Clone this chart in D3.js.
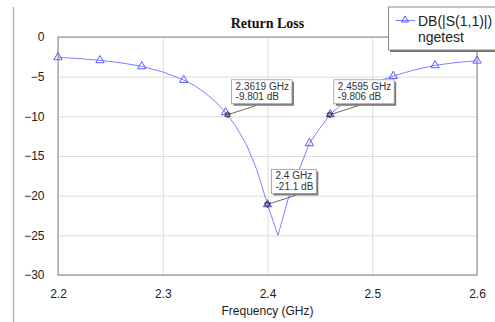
<!DOCTYPE html>
<html>
<head>
<meta charset="utf-8">
<script src="https://cdn.jsdelivr.net/npm/d3@7"></script>
<style>
  body { margin: 0; background: #fff; }
  text { font-family: Arial, "Liberation Sans", sans-serif; }
</style>
</head>
<body>
<div id="chart"></div>
<script>
// Curve values
const freq = [2.20, 2.22, 2.24, 2.26, 2.28, 2.30, 2.32, 2.33, 2.34, 2.35, 2.36, 2.37, 2.38, 2.39, 2.40,
              2.41, 2.42, 2.43, 2.44, 2.45, 2.46, 2.47, 2.48, 2.49, 2.50, 2.51, 2.52, 2.54, 2.56, 2.58, 2.60];
const s11 = [-2.56, -2.72, -2.94, -3.25, -3.70, -4.40, -5.42, -6.10, -7.00, -8.10, -9.50, -11.3, -13.6, -16.8, -21.1,
             -25.0, -20.3, -16.8, -13.4, -11.5, -9.75, -8.60, -7.60, -6.70, -6.00, -5.40, -4.92, -4.15, -3.57, -3.22, -2.99];
// Frequencies that carry a triangle symbol
const symbolFreq = [2.20, 2.24, 2.28, 2.32, 2.36, 2.40, 2.44, 2.46, 2.52, 2.56, 2.60];

// Marker readouts
const markerFreq = [2.3619, 2.4, 2.4595];
const markerDb = [-9.801, -21.1, -9.806];

const xTicks = [2.2, 2.3, 2.4, 2.5, 2.6];
const yTicks = [0, -5, -10, -15, -20, -25, -30];

const width = 495, height = 322,
      margin = ({ top: 37, right: 18, bottom: 47, left: 58 });

const svg = d3.select("#chart").append("svg")
    .attr("width", width)
    .attr("height", height);

const x = d3.scaleLinear().domain([2.2, 2.6]).range([margin.left, width - margin.right]);
const y = d3.scaleLinear().domain([-30, 0]).range([height - margin.bottom, margin.top]);

// window edge on the left
svg.append("line")
    .attr("x1", 13.5).attr("x2", 13.5).attr("y1", 7).attr("y2", height)
    .attr("stroke", "#b5b5b5").attr("stroke-width", 1.5);

// grid
svg.append("g")
    .attr("transform", `translate(0,${height - margin.bottom})`)
    .call(d3.axisBottom(x).tickValues(xTicks).tickSize(-(height - margin.top - margin.bottom)).tickFormat(""))
    .call(g => g.select(".domain").remove())
    .call(g => g.selectAll("line").attr("stroke", "#dcdcdc"));
svg.append("g")
    .attr("transform", `translate(${margin.left},0)`)
    .call(d3.axisLeft(y).tickValues(yTicks).tickSize(-(width - margin.left - margin.right)).tickFormat(""))
    .call(g => g.select(".domain").remove())
    .call(g => g.selectAll("line").attr("stroke", "#dcdcdc"));

// plot frame
svg.append("rect")
    .attr("x", margin.left).attr("y", margin.top)
    .attr("width", width - margin.left - margin.right)
    .attr("height", height - margin.top - margin.bottom)
    .attr("fill", "none").attr("stroke", "#858585");

// tick labels
svg.append("g")
    .attr("transform", `translate(${margin.left},0)`)
    .call(d3.axisLeft(y).tickValues(yTicks).tickSize(0).tickPadding(13.5))
    .call(g => g.select(".domain").remove())
    .call(g => g.selectAll("text").attr("font-size", 12).attr("font-family", "Arial").attr("fill", "#222"));
svg.append("g")
    .attr("transform", `translate(0,${height - margin.bottom})`)
    .call(d3.axisBottom(x).tickValues(xTicks).tickSize(0).tickPadding(14).tickFormat(d3.format(".1f")))
    .call(g => g.select(".domain").remove())
    .call(g => g.selectAll("text").attr("font-size", 12).attr("font-family", "Arial").attr("fill", "#222"));

svg.append("text")
    .attr("x", (margin.left + width - margin.right) / 2).attr("y", 315)
    .attr("text-anchor", "middle").attr("font-size", 12).attr("fill", "#222")
    .text("Frequency (GHz)");

svg.append("text")
    .attr("x", (margin.left + width - margin.right) / 2).attr("y", 28)
    .attr("text-anchor", "middle")
    .style("font-family", "'Liberation Serif', 'Times New Roman', serif")
    .attr("font-weight", "bold").attr("font-size", 14).attr("fill", "#111")
    .text("Return Loss");

// curve
const pts = freq.map((f, i) => [f, s11[i]]);
svg.append("path")
    .datum(pts)
    .attr("fill", "none")
    .attr("stroke", "#8080ff")
    .attr("stroke-width", 1)
    .attr("d", d3.line().x(d => x(d[0])).y(d => y(d[1])));

const tri = d3.symbol().type(d3.symbolTriangle).size(30);
svg.append("g")
    .selectAll("path")
    .data(symbolFreq)
    .join("path")
    .attr("transform", f => `translate(${x(f)},${y(s11[freq.indexOf(f)])})`)
    .attr("d", tri)
    .attr("fill", "none")
    .attr("stroke", "#5a5aff")
    .attr("stroke-width", 1);

// marker readouts
const markers = markerFreq.map((f, i) => ({ f: f, db: markerDb[i] }));
markers.forEach(m => {
  const mx = x(m.f), my = y(m.db);
  const g = svg.append("g");
  const bx = mx + 4, by = my - 35;
  const shadow = g.append("rect").attr("fill", "#7a7a7a");
  const box = g.append("rect").attr("fill", "#fff").attr("stroke", "#9a9a9a").attr("stroke-width", 0.8);
  const t1 = g.append("text").attr("x", bx + 4).attr("y", by + 10)
      .attr("font-size", 10).attr("fill", "#333").text(`${m.f} GHz`);
  const t2 = g.append("text").attr("x", bx + 4).attr("y", by + 20.5)
      .attr("font-size", 10).attr("fill", "#333").text(`${m.db} dB`);
  const w = Math.max(t1.node().getComputedTextLength(), t2.node().getComputedTextLength()) + 7;
  const h = 24;
  shadow.attr("x", bx + 2).attr("y", by + 2).attr("width", w).attr("height", h);
  box.attr("x", bx).attr("y", by).attr("width", w).attr("height", h);
  svg.append("line")
    .attr("x1", bx + 24).attr("y1", by + h + 2)
    .attr("x2", mx).attr("y2", my)
    .attr("stroke", "#444").attr("stroke-width", 0.8);
  svg.append("path")
    .attr("transform", `translate(${mx},${my})`)
    .attr("d", d3.symbol().type(d3.symbolTriangle).size(14))
    .attr("fill", "none").attr("stroke", "#333").attr("stroke-width", 0.8);
  svg.append("path")
    .attr("transform", `translate(${mx},${my}) rotate(180)`)
    .attr("d", d3.symbol().type(d3.symbolTriangle).size(14))
    .attr("fill", "none").attr("stroke", "#333").attr("stroke-width", 0.8);
});

// legend
const lg = svg.append("g");
lg.append("rect").attr("x", 390).attr("y", 9).attr("width", 120).attr("height", 43).attr("fill", "#707070");
lg.append("rect").attr("x", 388.5).attr("y", 7).attr("width", 120).attr("height", 43)
    .attr("fill", "#fff").attr("stroke", "#8a8a8a");
lg.append("line").attr("x1", 395.5).attr("x2", 415).attr("y1", 20.5).attr("y2", 20.5)
    .attr("stroke", "#8080ff");
lg.append("path").attr("transform", "translate(405,20)").attr("d", d3.symbol().type(d3.symbolTriangle).size(22))
    .attr("fill", "none").attr("stroke", "#5a5aff");
lg.append("text").attr("x", 418).attr("y", 25.5).attr("font-size", 14).attr("fill", "#222").text("DB(|S(1,1)|)");
lg.append("text").attr("x", 418).attr("y", 42).attr("font-size", 14).attr("fill", "#222").text("ngetest");
</script>
</body>
</html>
